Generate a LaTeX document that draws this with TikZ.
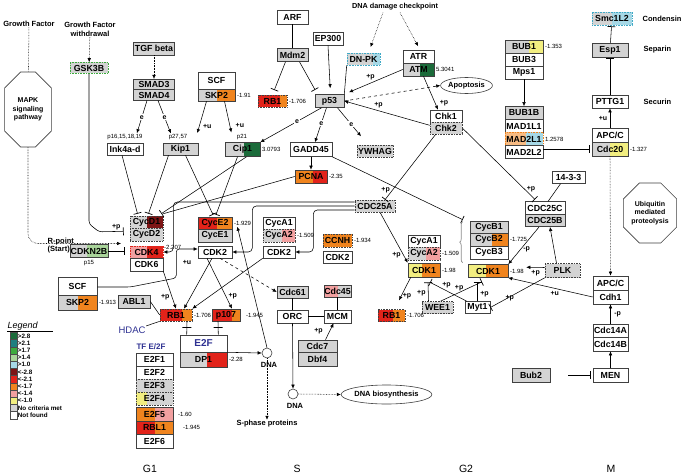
\documentclass[tikz,border=0pt]{standalone}
\usepackage{fontspec}
\setmainfont{Liberation Sans}
\usetikzlibrary{arrows.meta,positioning,calc,shapes.misc,shapes.geometric,decorations.pathreplacing}
\definecolor{cGreenA}{HTML}{1B6B3A}
\definecolor{cTeal}{HTML}{1F7F80}
\definecolor{cGreenB}{HTML}{3DAA3D}
\definecolor{cGreenC}{HTML}{A9D49A}
\definecolor{cBlue}{HTML}{A6D8E6}
\definecolor{cCyan}{HTML}{3FA9C6}
\definecolor{cRedA}{HTML}{7D1515}
\definecolor{cRedB}{HTML}{E2231A}
\definecolor{cOrange}{HTML}{F0841E}
\definecolor{cPink}{HTML}{F2A0A0}
\definecolor{cYellow}{HTML}{F2EE80}
\definecolor{cGrey}{HTML}{D3D3D3}
\definecolor{cNavy}{HTML}{2E3192}
\newcommand\genefont{\fontsize{8.8}{9}\selectfont\bfseries}
\newcommand\valfont{\fontsize{6}{6}\selectfont}
\newcommand\tagfont{\fontsize{7}{7}\selectfont\bfseries}
\newcommand\lblfont{\fontsize{7.5}{8.5}\selectfont\bfseries}
\newcommand\pathfont{\fontsize{7}{8.5}\selectfont\bfseries}
\newcommand\phasefont{\fontsize{10.5}{11}\selectfont}
\newcommand\legfont{\fontsize{6.3}{6.3}\selectfont\bfseries}
\tikzset{
  genebox/.style={draw=black!75, line width=0.6pt, fill=white, minimum height=12pt, inner sep=0pt, font=\genefont},
  greybox/.style={genebox, fill=cGrey},
  dotbox/.style={greybox, densely dotted},
  splitfill/.style 2 args={path picture={\fill[#1] ($(path picture bounding box.south west)!#2!(path picture bounding box.south east)$) rectangle (path picture bounding box.north east);}},
  pathbox/.style={draw=black!75, line width=0.6pt, chamfered rectangle, chamfered rectangle xsep=8pt, chamfered rectangle ysep=8pt, align=center, font=\pathfont, inner sep=0pt},
  oval/.style={draw=black!75, line width=0.6pt, ellipse, inner sep=0pt, font=\lblfont},
  dnadot/.style={draw=black!75, line width=0.6pt, circle, minimum size=10pt, inner sep=0pt},
  valtxt/.style={font=\valfont, inner sep=0.5pt},
  tagtxt/.style={font=\tagfont, inner sep=0.5pt},
  etag/.style={font=\tagfont, fill=white, inner sep=1pt},
  lbltxt/.style={font=\lblfont, align=center, inner sep=0.5pt},
  bluetxt/.style={text=cNavy, inner sep=0.5pt},
  phasetxt/.style={font=\phasefont},
  legswatch/.style={draw=black!70, line width=0.4pt, minimum width=7pt, minimum height=7.2pt, inner sep=0pt},
  legtxt/.style={font=\legfont, inner sep=0.5pt},
  act/.style={-{Latex[length=4pt,width=3.6pt]}, line width=0.55pt},
  inhib/.style={-{Bar[width=8pt,line width=0.7pt]}, line width=0.55pt},
  dotact/.style={act, densely dotted},
  dashact/.style={act, dashed},
  link/.style={line width=0.55pt},
  crossbar/.style={draw, line width=0.7pt, minimum width=9pt, minimum height=0pt, inner sep=0pt}
}
\begin{document}
\begin{tikzpicture}[x=1pt, y=-1pt]
\useasboundingbox (0,0) rectangle (685,476);
\fill[white] (0,0) rectangle (685,476);

\node[lbltxt] (gf) at (29,24) {Growth Factor};
\node[lbltxt] (gfw) at (90,29.5) {Growth Factor\\withdrawal};
\node[pathbox, minimum width=42pt, minimum height=75pt] (mapk) at (28,109.5) {MAPK\\signaling\\pathway};
\node[dotbox, draw=cGreenB, minimum width=38pt, minimum height=11pt] (gsk3b) at (89,68) {GSK3B};
\node[greybox, minimum width=41pt, minimum height=13pt] (tgfb) at (154,48.5) {TGF beta};
\node[greybox, minimum width=41pt, minimum height=10.5pt] (smad3) at (154,84.5) {SMAD3};
\node[greybox, minimum width=41pt, minimum height=10.5pt] (smad4) at (154,95) {SMAD4};
\node[genebox, minimum width=36pt] (ink4) at (125,149) {Ink4a-d};
\node[valtxt] (ink4lbl) at (125,137.5) {p16,15,18,19};
\node[greybox, minimum width=35pt] (kip1) at (180.5,149) {Kip1};
\node[valtxt] (kip1lbl) at (178,137.5) {p27,57};
\node[genebox, minimum width=37pt, minimum height=17pt] (scfa) at (216.5,80.5) {SCF};
\node[greybox, splitfill={cOrange}{0.52}, minimum width=37pt] (skp2a) at (216.5,95) {SKP2};
\node[valtxt, right=1pt of skp2a] (skp2aval) {-1.91};
\node[genebox, minimum width=31pt, minimum height=14pt] (arf) at (292.5,17) {ARF};
\node[greybox, minimum width=31pt, minimum height=13pt] (mdm2) at (292.5,55) {Mdm2};
\node[dotbox, fill=cRedB, splitfill={cOrange}{0.75}, minimum width=29pt] (rb1a) at (272.5,101) {RB1};
\node[valtxt, right=1pt of rb1a] (rb1aval) {-1.706};
\node[genebox, minimum width=30pt, minimum height=13pt] (ep300) at (328,38.5) {EP300};
\node[greybox, minimum width=29pt, minimum height=13pt] (p53) at (329.5,101) {p53};
\node[greybox, splitfill={cGreenA}{0.55}, minimum width=35pt, minimum height=14pt] (cip1) at (242.5,149.5) {Cip1};
\node[valtxt, right=1pt of cip1] (cip1val) {3.0793};
\node[valtxt] (cip1lbl) at (242,137.5) {p21};
\node[genebox, minimum width=42pt, minimum height=14pt] (gadd45) at (311,149.5) {GADD45};

\node[lbltxt, font=\fontsize{7.3}{8}\selectfont\bfseries] (dnadmg) at (395,6.5) {DNA damage checkpoint};
\node[dotbox, draw=cCyan, splitfill={cBlue}{0.8}, minimum width=33pt] (dnpk) at (363.5,59) {DN-PK};
\node[genebox, minimum width=31pt, minimum height=13pt] (atr) at (418.5,56.5) {ATR};
\node[greybox, splitfill={cGreenA}{0.55}, minimum width=31pt, minimum height=13pt] (atm) at (418.5,69.5) {ATM};
\node[valtxt, right=1pt of atm] (atmval) {5.3041};
\node[oval, minimum width=47pt, minimum height=16pt] (apop) at (466.5,85.5) {Apoptosis};
\node[genebox, minimum width=32pt] (chk1) at (446,116) {Chk1};
\node[dotbox, minimum width=32pt] (chk2) at (446,128) {Chk2};
\node[dotbox, minimum width=36pt] (ywhag) at (375,151) {YWHAG};

\node[dotbox, draw=cCyan, splitfill={cBlue}{0.5}, minimum width=40pt, minimum height=13pt] (smc) at (612,18.5) {Smc1L2};
\node[lbltxt, anchor=west] (condensin) at (642,18.5) {Condensin};
\node[greybox, minimum width=36pt, minimum height=14pt] (esp1) at (610,50) {Esp1};
\node[lbltxt, anchor=west] (separin) at (643,50) {Separin};
\node[genebox, minimum width=36pt, minimum height=13pt] (pttg1) at (610,101.5) {PTTG1};
\node[lbltxt, anchor=west] (securin) at (643,101.5) {Securin};
\node[genebox, minimum width=36pt, minimum height=14pt] (apcc1) at (610,135) {APC/C};
\node[greybox, splitfill={cYellow}{0.5}, minimum width=36pt, minimum height=14pt] (cdc20) at (610,149) {Cdc20};
\node[valtxt, right=1pt of cdc20] (cdc20val) {-1.327};
\node[greybox, splitfill={cYellow}{0.62}, minimum width=38pt, minimum height=13pt] (bub1) at (524,46.5) {BUB1};
\node[valtxt, right=1pt of bub1] (bub1val) {-1.353};
\node[genebox, minimum width=38pt, minimum height=13pt] (bub3) at (524,59.5) {BUB3};
\node[genebox, minimum width=38pt, minimum height=13pt] (mps1) at (524,72.5) {Mps1};
\node[greybox, minimum width=38pt, minimum height=13pt] (bub1b) at (524,113) {BUB1B};
\node[genebox, minimum width=38pt, minimum height=13pt] (mad1l1) at (524,126) {MAD1L1};
\node[genebox, densely dotted, draw=cOrange, fill=cOrange!55, splitfill={cBlue}{0.55}, minimum width=38pt, minimum height=13pt] (mad2l1) at (524,139) {MAD2L1};
\node[valtxt, right=1pt of mad2l1] (mad2l1val) {1.2578};
\node[genebox, minimum width=38pt, minimum height=13pt] (mad2l2) at (524,152) {MAD2L2};
\node[genebox, minimum width=33pt] (f1433) at (568.5,177.5) {14-3-3};
\node[genebox, minimum width=40pt, minimum height=12.5pt] (cdc25c) at (545,208) {CDC25C};
\node[greybox, minimum width=40pt, minimum height=12.5pt] (cdc25b) at (545,220.5) {CDC25B};
\node[pathbox, minimum width=50pt, minimum height=60pt] (ubiq) at (650,213) {Ubiquitin\\mediated\\proteolysis};
\node[dotbox, minimum width=35pt, minimum height=14pt] (plk) at (562.5,270.5) {PLK};
\node[genebox, minimum width=35pt, minimum height=14pt] (apcc2) at (610.5,283) {APC/C};
\node[genebox, minimum width=35pt, minimum height=14pt] (cdh1) at (610.5,297) {Cdh1};
\node[genebox, minimum width=35pt, minimum height=13pt] (cdc14a) at (610.5,330.5) {Cdc14A};
\node[genebox, minimum width=35pt, minimum height=14pt] (cdc14b) at (610.5,344) {Cdc14B};
\node[genebox, minimum width=35pt, minimum height=14pt] (men) at (610.5,375) {MEN};
\node[greybox, minimum width=38pt, minimum height=14pt] (bub2) at (531,375) {Bub2};

\node[genebox, fill=cOrange, splitfill={cRedB}{0.55}, minimum width=32pt, minimum height=13pt] (pcna) at (311,176.5) {PCNA};
\node[valtxt, right=1pt of pcna] (pcnaval) {-2.35};
\node[dotbox, splitfill={cRedA}{0.52}, minimum width=33pt] (cycd1) at (146.5,222) {CycD1};
\node[dotbox, minimum width=33pt, minimum height=13pt] (cycd2) at (146.5,234.5) {CycD2};
\node[dotbox, draw=cRedB, fill=cPink, splitfill={cRedB}{0.52}, minimum width=33pt] (cdk4) at (146.5,252) {CDK4};
\node[valtxt, anchor=west] (cdk4val) at (163.5,247) {-2.207};
\node[genebox, minimum width=33pt, minimum height=13pt] (cdk6) at (146.5,264.5) {CDK6};
\node[genebox, fill=cRedB, splitfill={cOrange}{0.55}, minimum width=34pt] (cyce2) at (215,223) {CycE2};
\node[valtxt, right=1pt of cyce2] (cyce2val) {-1.929};
\node[greybox, minimum width=34pt, minimum height=13pt] (cyce1) at (215,235.5) {CycE1};
\node[genebox, minimum width=34pt] (cdk2e) at (215,252) {CDK2};
\node[genebox, minimum width=32pt] (cyca1) at (279,223) {CycA1};
\node[dotbox, splitfill={cPink}{0.6}, minimum width=32pt, minimum height=13pt] (cyca2) at (279,235.5) {CycA2};
\node[valtxt, right=1pt of cyca2] (cyca2val) {-1.509};
\node[genebox, minimum width=32pt] (cdk2a) at (279,252) {CDK2};
\node[dotbox, fill=cOrange, minimum width=29pt, minimum height=13pt] (ccnh) at (337.5,240.5) {CCNH};
\node[valtxt, right=1pt of ccnh] (ccnhval) {-1.934};
\node[genebox, minimum width=29pt] (cdk2h) at (337.5,257) {CDK2};
\node[dotbox, minimum width=40pt] (cdc25a) at (375,206) {CDC25A};
\node[genebox, minimum width=32pt] (cyca1b) at (424,241) {CycA1};
\node[dotbox, splitfill={cPink}{0.55}, minimum width=32pt, minimum height=13pt] (cyca2b) at (424,253.5) {CycA2};
\node[valtxt, right=1pt of cyca2b] (cyca2bval) {-1.509};
\node[genebox, fill=cYellow, splitfill={cOrange}{0.45}, minimum width=32pt, minimum height=14pt] (cdk1a) at (424,270) {CDK1};
\node[valtxt, right=1pt of cdk1a] (cdk1aval) {-1.98};
\node[greybox, minimum width=38pt] (cycb1) at (489,227) {CycB1};
\node[greybox, splitfill={cOrange}{0.57}, minimum width=38pt, minimum height=13pt] (cycb2) at (489,239.5) {CycB2};
\node[valtxt, right=1pt of cycb2] (cycb2val) {-1.725};
\node[genebox, minimum width=38pt, minimum height=13pt] (cycb3) at (489,252.5) {CycB3};
\node[genebox, fill=cYellow, splitfill={cOrange}{0.45}, minimum width=40pt, minimum height=13pt] (cdk1b) at (488,271) {CDK1};
\node[valtxt, right=1pt of cdk1b] (cdk1bval) {-1.98};
\node[dotbox, minimum width=31pt] (wee1) at (437.5,307.5) {WEE1};
\node[genebox, minimum width=25pt] (myt1) at (477.5,307.5) {Myt1};
\node[dotbox, fill=cRedB, splitfill={cOrange}{0.55}, minimum width=27pt] (rb1c) at (391.5,315.5) {RB1};
\node[valtxt, right=1pt of rb1c] (rb1cval) {-1.706};

\node[greybox, minimum width=31pt] (cdc61) at (292.5,292) {Cdc61};
\node[genebox, minimum width=31pt, minimum height=13pt] (orc) at (292.5,316.5) {ORC};
\node[genebox, minimum width=27pt, minimum height=13pt] (mcm) at (337.5,316.5) {MCM};
\node[greybox, fill=cPink, splitfill={cGrey}{0.5}, minimum width=27pt] (cdc45) at (337.5,291) {Cdc45};
\node[greybox, minimum width=39pt] (cdc7) at (317.5,346) {Cdc7};
\node[greybox, minimum width=39pt, minimum height=14pt] (dbf4) at (317.5,359) {Dbf4};
\node[dnadot] (dna1) at (267,353) {};
\node[lbltxt] (dna1lbl) at (269,365) {DNA};
\node[dnadot] (dna2) at (293,394) {};
\node[lbltxt] (dna2lbl) at (295,405.5) {DNA};
\node[oval, minimum width=79pt, minimum height=19pt] (dnabio) at (386.5,394.5) {DNA biosynthesis};
\node[lbltxt] (sphase) at (267,424) {S-phase proteins};

\node[dotbox, fill=cRedB, splitfill={cOrange}{0.7}, minimum width=32pt] (rb1b) at (176,315) {RB1};
\node[valtxt, right=1pt of rb1b] (rb1bval) {-1.706};
\node[genebox, fill=cRedB, splitfill={cOrange}{0.72}, minimum width=28pt] (p107) at (226,315) {p107};
\node[valtxt, right=5pt of p107] (p107val) {-1.945};
\node[genebox, font=\fontsize{10}{10}\selectfont\bfseries, text=cNavy, minimum width=47pt, minimum height=17pt] (e2f) at (203.5,343.5) {E2F};
\node[greybox, splitfill={cRedB}{0.57}, minimum width=47pt, minimum height=15pt] (dp1) at (203.5,359.5) {DP1};
\node[valtxt, right=1pt of dp1] (dp1val) {-2.28};
\node[bluetxt, font=\fontsize{9.5}{10}\selectfont] (hdac) at (132,330) {HDAC};
\node[bluetxt, font=\fontsize{8}{8}\selectfont\bfseries] (tfe2f) at (151,347) {TF E/2F};
\node[genebox, minimum width=37pt, minimum height=13pt] (e2f1) at (154.5,359.5) {E2F1};
\node[genebox, minimum width=37pt, minimum height=13pt] (e2f2) at (154.5,372.5) {E2F2};
\node[dotbox, minimum width=37pt, minimum height=13pt] (e2f3) at (154.5,385.5) {E2F3};
\node[dotbox, fill=cYellow, splitfill={cGrey}{0.3}, minimum width=37pt, minimum height=13pt] (e2f4) at (154.5,398.5) {E2F4};
\node[genebox, fill=cOrange, splitfill={cPink}{0.5}, minimum width=37pt, minimum height=14pt] (e2f5) at (154.5,414) {E2F5};
\node[valtxt, right=4pt of e2f5] (e2f5val) {-1.60};
\node[genebox, fill=cRedB, splitfill={cOrange}{0.5}, minimum width=37pt, minimum height=13pt] (rbl1) at (154.5,427.5) {RBL1};
\node[valtxt, right=9pt of rbl1] (rbl1val) {-1.945};
\node[genebox, minimum width=37pt, minimum height=14pt] (e2f6) at (154.5,441) {E2F6};
\node[genebox, minimum width=39pt, minimum height=18pt] (scf2) at (77.5,286) {SCF};
\node[greybox, splitfill={cOrange}{0.5}, minimum width=39pt, minimum height=15pt] (skp2b) at (77.5,302.5) {SKP2};
\node[valtxt, right=1pt of skp2b] (skp2bval) {-1.913};
\node[greybox, minimum width=32pt, minimum height=13pt] (abl1) at (134,301.5) {ABL1};
\node[lbltxt, align=left, anchor=west] (rpt) at (47,245.5) {R-point\\(Start)};
\node[greybox, splitfill={cGreenC}{0.45}, minimum width=38pt, minimum height=13pt] (cdkn2b) at (89,251) {CDKN2B};
\node[valtxt] (cdkn2blbl) at (89,263.5) {p15};
\coordinate (rpoint) at (121,243.5);
\coordinate (cycbbr) at ($(cycb1.north west)+(-7,-1)$);

\draw[link, densely dotted] (gf) -- (mapk);
\draw[dotact, rounded corners=10pt] (mapk.south) |- (rpoint);
\draw[dotact] (gfw) -- (gsk3b);
\draw[inhib, rounded corners=3pt] (gsk3b.south) -- ++(0,150) -- ++(10,8) -- node[tagtxt, above=1pt, pos=0.7] {+p} ($(cycd1.south west)+(-6,3)$);
\draw[dotact] (tgfb) -- (smad3);
\draw[act, shorten >=10pt] ($(smad4.south)+(-7,0)$) -- node[etag, pos=0.4] {e} ($(ink4.north)+(9,0)$);
\draw[act, shorten >=10pt] ($(smad4.south)+(4,0)$) -- node[etag, pos=0.4] {e} ($(kip1.north)+(-6,0)$);
\draw[act, shorten >=10pt] ($(skp2a.south)+(-10,0)$) -- node[tagtxt, right=3pt, pos=0.6] {+u} ($(kip1.north)+(14,0)$);
\draw[act, shorten >=10pt] ($(skp2a.south)+(8,0)$) -- node[tagtxt, right=5pt, pos=0.6] {+u} ($(cip1.north)+(-9,0)$);
\draw[link] (arf) -- (mdm2);
\draw[inhib, shorten >=5pt] ($(mdm2.south)+(-7,0)$) -- (rb1a.north);
\draw[inhib, shorten >=5pt] ($(mdm2.south)+(7,0)$) -- ($(p53.north)+(-12,0)$);
\draw[act, shorten >=6pt] (ep300.south) -- ($(p53.north)+(1,0)$);
\draw[act] ($(p53.south)+(-8,0)$) -- node[etag, pos=0.4] {e} (cip1.north east);
\draw[act] ($(p53.south)+(-3,0)$) -- node[etag, pos=0.45] {e} ($(gadd45.north)+(4,0)$);
\draw[act, shorten >=11pt] ($(p53.south)+(8,0)$) -- node[etag, pos=0.45] {e} ($(ywhag.north)+(-7,0)$);
\draw[dotact, shorten >=6pt] ($(dnadmg.south)+(-12,2)$) -- ($(dnpk.north)+(5,0)$);
\draw[dotact, shorten >=4pt] ($(dnadmg.south)+(5,2)$) -- ($(atr.north)+(1.5,0)$);
\draw[link] (dnpk.south west) -- (p53.north east);
\draw[act, shorten >=5pt] (atm.west) -- node[tagtxt, above=2pt, pos=0.55] {+p} (p53.north east);
\draw[act] ($(atm.south)+(5,0)$) -- node[tagtxt, right=4pt, pos=0.8] {+p} ($(chk1.north)+(-8,0)$);
\draw[act] ($(chk1.south west)+(0,3)$) -- node[tagtxt, above=2pt, pos=0.6] {+p} (p53.east);
\draw[dashact] (p53.east) -- (apop.west);
\draw[inhib] ($(chk2.south west)+(6,0)$) -- node[tagtxt, left=2pt, pos=0.85] {+p} ($(cdc25a.north)+(10,0)$);
\draw[inhib] (chk2.east) -- node[tagtxt, right=2pt, pos=0.85] {+p} ($(cdc25c.north)+(-10,-2)$);
\draw[link] ($(f1433.south)+(-8,0)$) -- ($(cdc25c.north)+(3,0)$);
\draw[act] (gadd45.south) -- (pcna.north);
\draw[inhib] (gadd45.south east) -- (cycbbr);
\draw[decorate, decoration={brace, amplitude=3pt}, black!45, line width=0.7pt] ($(cycb1.north west)+(-7,42)$) -- ($(cycb1.north west)+(-7,1)$);
\draw[inhib] ($(ink4.south)+(-3,0)$) -- ($(cycd1.north)+(-9,-2)$);
\draw[inhib] ($(kip1.south)+(-12,0)$) -- ($(cycd1.north)+(2,-2)$);
\draw[inhib] ($(kip1.south)+(5,0)$) -- ($(cyce2.north)+(-2,-2)$);
\draw[inhib] ($(cip1.south)+(-5,0)$) -- ($(cyce2.north)+(1,-2)$);
\draw[inhib] ($(cip1.south)+(4,0)$) -- ($(cycd1.north east)+(-2,-2)$);
\draw[link] (pcna.west) -- ($(cycd1.north east)+(0,-2)$);
\draw[act, rounded corners=4pt] ($(cdc25a.west)+(0,-4)$) -| ($(cdk4.east)+(10,0)$) -- (cdk4.east);
\draw[act, rounded corners=4pt] (cdc25a.west) -| ($(cdk2e.east)+(20,0)$) -- (cdk2e.east);
\draw[act, rounded corners=4pt] ($(cdc25a.west)+(0,4)$) -| ($(cdk2a.east)+(18,0)$) -- (cdk2a.east);
\draw[act] ($(cdc25a.south)+(5,0)$) -- node[tagtxt, left=2pt, pos=0.85] {+p} (cdk1a.north west);
\draw[act] (dna1.north) -- ($(cyce1.north east)+(5,-2)$);
\draw[act] (e2f.south east) -- (dna1.west);
\draw[dotact] (dna1.south) -- (sphase.north);
\draw[link] ($(rb1b.south)+(11,0)$) -- node[crossbar, pos=0.45] {} ($(e2f.north west)+(7,0)$);
\draw[link] ($(p107.south)+(-8,0)$) -- node[crossbar, pos=0.45] {} ($(e2f.north east)+(-9,0)$);
\draw[act] (cdk6.south east) -- node[tagtxt, left=2pt, pos=0.7] {+p} (rb1b.north);
\draw[act] ($(cdk2e.south)+(-3,0)$) -- ($(rb1b.north)+(8,0)$);
\draw[act] ($(cdk2e.south)+(-8,0)$) -- node[tagtxt, right=2pt, pos=0.75] {+p} ($(p107.north)+(6,0)$);
\draw[act] (cdk2a.south west) -- (rb1b.north east);
\draw[link] (hdac.north east) -- (rb1b.south west);
\draw[link] (abl1.east) -- (rb1b.west);
\draw[act, rounded corners=3pt] ($(scf2.east)+(0,1)$) -- ++(33,0) -- ++(46,-9) |- ($(cdk2e.west)+(0,-3)$);
\node[tagtxt] (scfu) at (187,262) {+u};
\draw[inhib, shorten >=5pt] (cdkn2b.east) -- (cdkn2b.east -| cdk4.west);
\draw[dashact] ($(cdk2e.south)+(5,0)$) -- (cdc61.west);
\draw[link] (cdc61) -- (orc);
\draw[link] (orc) -- (mcm);
\draw[link] (cdc45) -- (mcm);
\draw[act] ($(cdc7.north)+(8,0)$) -- node[tagtxt, left=6pt, pos=0.5] {+p} ($(mcm.south)+(-4,0)$);
\draw[act] (orc.south) -- (dna2.north);
\draw[dotact] (dna2.east) -- (dnabio.west);
\draw[act, shorten >=10pt] ($(cdk1a.south west)+(3,0)$) -- node[tagtxt, right=1pt, pos=0.6] {+p} ($(rb1c.north)+(3,0)$);
\draw[inhib] ($(wee1.north)+(-9,0)$) -- node[tagtxt, left=2pt, pos=0.4] {+p} ($(cdk1a.south)+(4,5)$);
\draw[inhib] ($(myt1.north west)+(2,0)$) -- node[tagtxt, above=2pt, pos=0.55] {+p} ($(cdk1a.south)+(6,5)$);
\draw[inhib] ($(wee1.north)+(3,0)$) -- node[tagtxt, above=1pt, pos=0.45] {+p} ($(cdk1b.south)+(-6,4)$);
\draw[inhib] (myt1.north) -- node[tagtxt, right=2pt, pos=0.35] {+p} ($(cdk1b.south)+(-10.5,4)$);
\draw[act] ($(cdc25b.south)+(-6,0)$) -- node[tagtxt, right=2pt, pos=0.6] {-p} (cdk1b.north east);
\draw[act] ($(plk.north)+(-6,0)$) -- ($(cdc25b.south)+(5,0)$);
\draw[act, shorten >=18pt] ($(plk.west)+(0,-3)$) -- node[tagtxt, below=2pt, pos=0.25] {+p} ($(cdk1b.east)+(0,-4)$);
\draw[inhib] (plk.south west) -- node[tagtxt, below left=0pt, pos=0.55] {+p} (myt1.east);
\draw[act] (cdh1.west) -- node[tagtxt, below=2pt, pos=0.45] {+u} (cdk1b.south east);
\draw[dotact] (cdc20.south) -- (apcc2.north);
\draw[inhib, shorten >=2pt] (mad2l1.east |- cdc20.west) -- (cdc20.west);
\draw[act] (mps1) -- (bub1b);
\draw[act] (apcc1) -- node[tagtxt, left=2pt] {+u} (pttg1);
\draw[inhib, shorten >=1pt] (pttg1) -- (esp1);
\draw[inhib, shorten >=1pt] (esp1) -- (smc);
\draw[act] (cdc14a) -- node[tagtxt, right=3pt] {-p} (cdh1);
\draw[act] (men) -- (cdc14b);
\draw[inhib, shorten <=18pt, shorten >=2pt] (bub2) -- (men);

\node[font=\fontsize{9}{9}\selectfont\itshape, anchor=south west, inner sep=0.5pt] (legtitle) at (7,331) {Legend};
\draw[line width=0.9pt] (legtitle.south west) -- ++(46,0);
\foreach \col/\txt [count=\i] in {cGreenA/{>2.8}, cTeal/{>2.1}, cGreenB/{>1.7}, cGreenC/{>1.4}, cBlue/{>1.0}, cRedA/{<-2.8}, cRedB/{<-2.1}, cOrange/{<-1.7}, cPink/{<-1.4}, cYellow/{<-1.0}, cGrey/{No criteria met}, white/{Not found}}
  \node[legswatch, fill=\col, label={[legtxt]right:\txt}] (leg\i) at (13.5,{328.7+7.2*\i}) {};

\node[phasetxt] (phgone) at (150,469) {G1};
\node[phasetxt] (phs) at (297,469) {S};
\node[phasetxt] (phgtwo) at (466,469) {G2};
\node[phasetxt] (phm) at (611,469) {M};
\end{tikzpicture}
\end{document}
